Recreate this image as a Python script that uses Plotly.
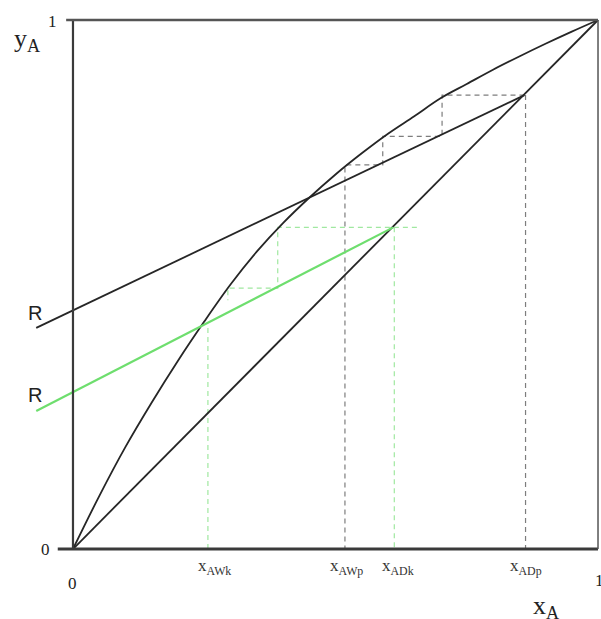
import plotly.graph_objects as go

# ---- data ----
eq_x = [0.0, 0.05, 0.10, 0.15, 0.20, 0.25, 0.30, 0.35, 0.40, 0.45, 0.50,
        0.55, 0.60, 0.65, 0.70, 0.75, 0.80, 0.85, 0.90, 0.95, 1.0]
eq_y = [0.0, 0.100, 0.193, 0.277, 0.356, 0.430, 0.500, 0.562, 0.616, 0.664, 0.708,
        0.748, 0.785, 0.818, 0.852, 0.879, 0.906, 0.931, 0.955, 0.978, 1.0]

diag_x = [0.0, 1.0]
diag_y = [0.0, 1.0]

op_upper_x = [-0.07, 0.86]
op_upper_y = [0.418, 0.858]

op_lower_x = [-0.07, 0.61]
op_lower_y = [0.261, 0.608]

steps_black_x = [0.86, 0.703, 0.703, 0.59, 0.59, 0.518, 0.518, None, 0.862, 0.862]
steps_black_y = [0.858, 0.858, 0.78, 0.78, 0.726, 0.726, 0.0, None, 0.858, 0.0]

steps_green_x = [0.655, 0.39, 0.39, 0.295, 0.295, None, 0.257, 0.257, None, 0.612, 0.612]
steps_green_y = [0.608, 0.608, 0.493, 0.493, 0.47, None, 0.418, 0.0, None, 0.608, 0.0]

tick_vals = [0.257, 0.518, 0.612, 0.862]
tick_text = ["x<sub>AWk</sub>", "x<sub>AWp</sub>", "x<sub>ADk</sub>", "x<sub>ADp</sub>"]
tick_shift = [7, 2, 4, 0]

R_vals = [0.451, 0.297]

BLACK = "#262626"
GREEN = "rgb(110,222,110)"
GREEN_D = "rgb(160,232,160)"
GRAY_D = "rgb(125,125,125)"
SERIF = "Liberation Serif"

fig = go.Figure()

def line(x, y, color, width, dash="solid", shape="linear"):
    fig.add_trace(go.Scatter(x=x, y=y, mode="lines", hoverinfo="skip",
                             line=dict(color=color, width=width, dash=dash, shape=shape),
                             showlegend=False, connectgaps=False))

line(steps_black_x, steps_black_y, GRAY_D, 1.2, "5px,4px")
line(steps_green_x, steps_green_y, GREEN_D, 1.2, "5px,4px")
line(diag_x, diag_y, BLACK, 1.8)
line(eq_x, eq_y, BLACK, 1.8, shape="spline")
line(op_upper_x, op_upper_y, BLACK, 1.8)
line(op_lower_x, op_lower_y, GREEN, 2.2)

# frame
shapes = [
    dict(type="line", x0=0, x1=0, y0=0, y1=1, line=dict(color="#3a3a3a", width=2.2)),
    dict(type="line", x0=-0.029, x1=1.0, y0=0, y1=0, line=dict(color="#3a3a3a", width=3)),
    dict(type="line", x0=-0.013, x1=1.0, y0=1, y1=1, line=dict(color="#555", width=2.4)),
    dict(type="line", x0=1, x1=1, y0=0, y1=1, line=dict(color="#555", width=1.5)),
]

ann = []
for v, t, s in zip(tick_vals, tick_text, tick_shift):
    ann.append(dict(x=v, y=0, xref="x", yref="y", text=t, showarrow=False,
                    xanchor="center", yanchor="top", xshift=s, yshift=-5,
                    font=dict(family=SERIF, size=17, color="#333")))
ann.append(dict(x=0, y=0, text="0", showarrow=False, xanchor="center", yanchor="middle",
                yshift=-34, font=dict(family=SERIF, size=17, color="#222")))
ann.append(dict(x=1, y=0, text="1", showarrow=False, xanchor="center", yanchor="middle",
                xshift=1, yshift=-31, font=dict(family=SERIF, size=17, color="#222")))
ann.append(dict(x=0, y=0, text="0", showarrow=False, xanchor="center", yanchor="middle",
                xshift=-27, font=dict(family=SERIF, size=17, color="#222")))
ann.append(dict(x=52 / 601, y=1 - 22 / 619, xref="paper", yref="paper", text="1",
                showarrow=False, xanchor="center", yanchor="middle",
                font=dict(family=SERIF, size=17, color="#222")))
ann.append(dict(x=0, y=1, text="y<sub>A</sub>", showarrow=False, xanchor="center", yanchor="middle",
                xshift=-46, yshift=-20, font=dict(family=SERIF, size=26, color="#222")))
ann.append(dict(x=0.9, y=0, text="x<sub>A</sub>", showarrow=False, xanchor="center", yanchor="middle",
                yshift=-58, font=dict(family=SERIF, size=26, color="#222")))
for r in R_vals:
    ann.append(dict(x=0, y=r, text="R", showarrow=False, xanchor="center", yanchor="middle",
                    xshift=-38, yshift=-3, font=dict(family="Liberation Sans", size=20, color="#222")))

fig.update_layout(
    width=601, height=619,
    margin=dict(l=0, r=0, t=0, b=0),
    paper_bgcolor="white", plot_bgcolor="white",
    xaxis=dict(range=[-0.1390, 1.0057], visible=False, fixedrange=True),
    yaxis=dict(range=[-0.1323, 1.0378], visible=False, fixedrange=True),
    shapes=shapes, annotations=ann,
)

# remove the page's default 8px body margin so the figure fills the window exactly
post = ("document.body.style.margin='0';"
        "document.body.style.overflow='hidden';"
        "document.documentElement.style.overflow='hidden';")

fig.write_html("out.html", config={"displayModeBar": False}, post_script=post)
